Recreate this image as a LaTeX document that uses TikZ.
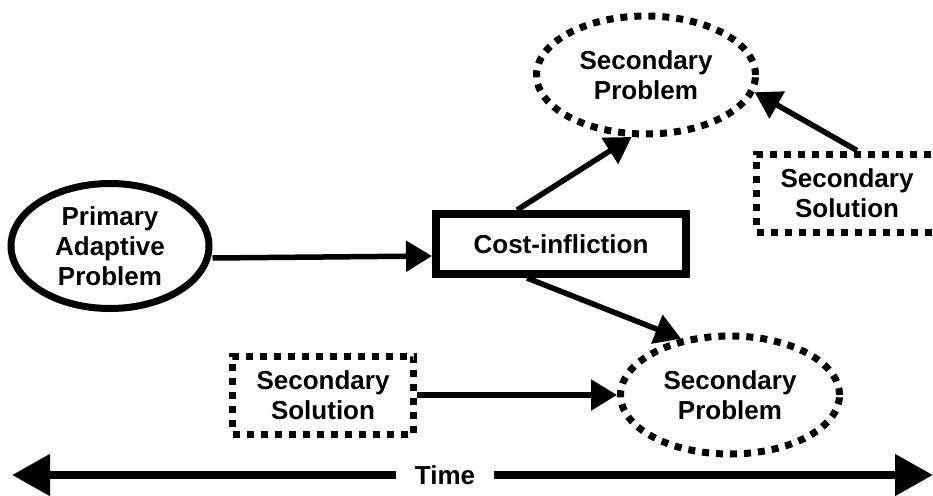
\documentclass[tikz,border=0pt]{standalone}
\usepackage{fontspec}
\setmainfont{Liberation Sans}
\usetikzlibrary{arrows.meta,shapes.geometric}

\begin{document}
\begin{tikzpicture}[x=1pt,y=1pt,
  every node/.style={font=\fontsize{26}{30}\selectfont\bfseries, align=center, inner sep=0pt},
  primprob/.style={ellipse, draw, line width=7pt, minimum width=198pt, minimum height=125pt},
  secprob/.style={ellipse, draw, line width=7pt, dash pattern=on 7pt off 7pt, minimum width=219pt, minimum height=118pt},
  secsol/.style={rectangle, draw, line width=7pt, dash pattern=on 7pt off 7pt, minimum width=181pt, minimum height=78pt},
  costbox/.style={rectangle, draw, line width=8pt, minimum width=250pt, minimum height=60pt},
  arr/.style={line width=5.5pt, -{Triangle[length=26pt,width=30pt]}},
  timearr/.style={line width=8pt, -{Triangle[length=38pt,width=40pt]}}]
\useasboundingbox (0,0) rectangle (933,-495);

% Problems and solutions
\node[primprob] (prim) at (110,-246) {Primary\\Adaptive\\Problem};
\node[costbox] (cost) at (561,-244) {Cost-infliction};
\node[secprob] (secA) at (646,-75) {Secondary\\Problem};
\node[secsol] (solA) at (847,-193) {Secondary\\Solution};
\node[secprob] (secB) at (730,-395) {Secondary\\Problem};
\node[secsol] (solB) at (323,-395) {Secondary\\Solution};

% Arrows
\draw[arr] ([yshift=-12pt]prim.east) -- ([yshift=-12pt]cost.west);
\draw[arr] ([xshift=-44pt]cost.north) -- (secA.257);
\draw[arr] ([xshift=-34pt]cost.south) -- (secB.131);
\draw[arr] ([xshift=10pt]solA.north) -- (secA.351);
\draw[arr] (solB.east) -- (secB.west);

% Time axis
\node[inner xsep=19pt] (time) at (445,-475) {Time};
\coordinate (tleft) at (12,-475);
\coordinate (tright) at (933,-475);
\draw[timearr] (time.west) -- (tleft);
\draw[timearr] (time.east) -- (tright);
\end{tikzpicture}
\end{document}
